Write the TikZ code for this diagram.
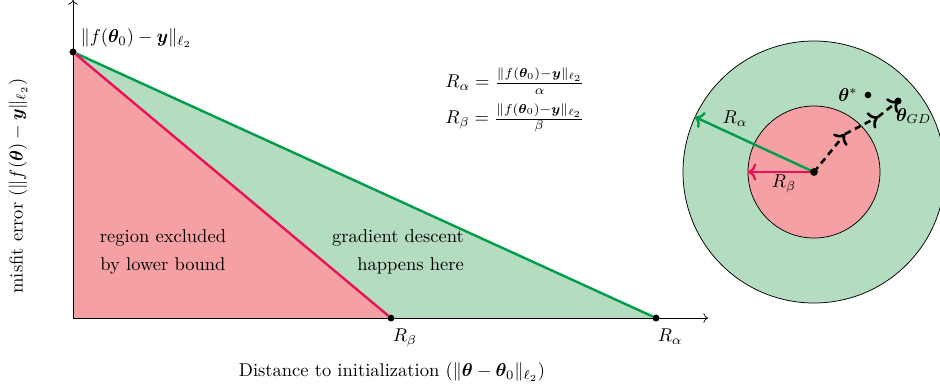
\documentclass[tikz,border=0pt]{standalone}
\usepackage{amsmath,bm}
\usetikzlibrary{arrows.meta, positioning}

\definecolor{fillred}{RGB}{245,161,164}
\definecolor{fillgreen}{RGB}{180,220,193}
\definecolor{linered}{RGB}{232,18,88}
\definecolor{linegreen}{RGB}{0,157,72}

\begin{document}
\begin{tikzpicture}[
    x=0.54pt, y=-0.54pt,
    dot/.style={circle, fill=black, inner sep=0pt, minimum size=3.6pt},
    axis/.style={->, thin},
    bound/.style={line width=1.3pt},
    path/.style={->, dash pattern=on 3.5pt off 2.5pt, line width=1.4pt}
]
\useasboundingbox (0,0) rectangle (940,387);

% left plot
\coordinate (o) at (73,318);
\coordinate (xe) at (708,318);
\coordinate (ye) at (73,0);
\node[dot] (f0) at (73,52) {};
\node[dot] (rb) at (391,318) {};
\node[dot] (ra) at (656,318) {};

\fill[fillgreen] (f0.center) -- (ra.center) -- (rb.center) -- cycle;
\fill[fillred] (o) -- (f0.center) -- (rb.center) -- cycle;
\draw[bound, linegreen] (f0) -- (ra);
\draw[bound, linered] (f0) -- (rb);
\draw[axis] (o) -- (xe);
\draw[axis] (o) -- (ye);
\node[dot] at (f0) {};
\node[dot] at (rb) {};
\node[dot] at (ra) {};

\node[anchor=south west] (f0l) at (74,54) {$\|f(\bm\theta_0) - \bm y\|_{\ell_2}$};
\node[below right=1pt and -4pt of rb] (rbl) {$R_\beta$};
\node[below right=1pt and -4pt of ra] (ral) {$R_\alpha$};

\node[align=center] (ex) at (163,252) {region excluded\\[3pt] by lower bound};
\node[align=right] (gd) at (398,252) {gradient descent\\[3pt] happens here};

\node[align=left] (eq) at (515,100) {$R_\alpha = \frac{\|f(\bm\theta_0) - \bm y\|_{\ell_2}}{\alpha}$\\[4pt]
  $R_\beta = \frac{\|f(\bm\theta_0) - \bm y\|_{\ell_2}}{\beta}$};

\node (xl) at (392,372) {Distance to initialization ($\|\bm\theta - \bm\theta_0\|_{\ell_2}$)};
\node[rotate=90] (yl) at (18,186) {misfit error ($\|f(\bm\theta) - \bm y\|_{\ell_2}$)};

% balls
\coordinate (c) at (814,172);
\draw[fill=fillgreen, thin] (c) circle[radius=131];
\draw[fill=fillred, thin] (c) circle[radius=66];

\coordinate (ae) at (695,117);
\coordinate (be) at (748,172);
\draw[->, bound, linegreen] (c) -- (ae);
\draw[->, bound, linered] (c) -- (be);
\node (al) at (735,119) {$R_\alpha$};
\node (bl) at (784,184) {$R_\beta$};

\coordinate (p1) at (845,134);
\coordinate (p2) at (878,117);
\node[dot] (g) at (898,101) {};
\node[dot] (ts) at (868,95) {};
\draw[path] (c) -- (p1);
\draw[path] (p1) -- (p2);
\draw[path] (p2) -- (g.center);
\node[dot] at (g) {};
\node[dot, minimum size=4.2pt] at (c) {};

\node[left=0pt of ts] (tsl) {$\bm\theta^*$};
\node[below right=-1pt and -6pt of g] (gl) {$\bm\theta_{GD}$};
\end{tikzpicture}
\end{document}
